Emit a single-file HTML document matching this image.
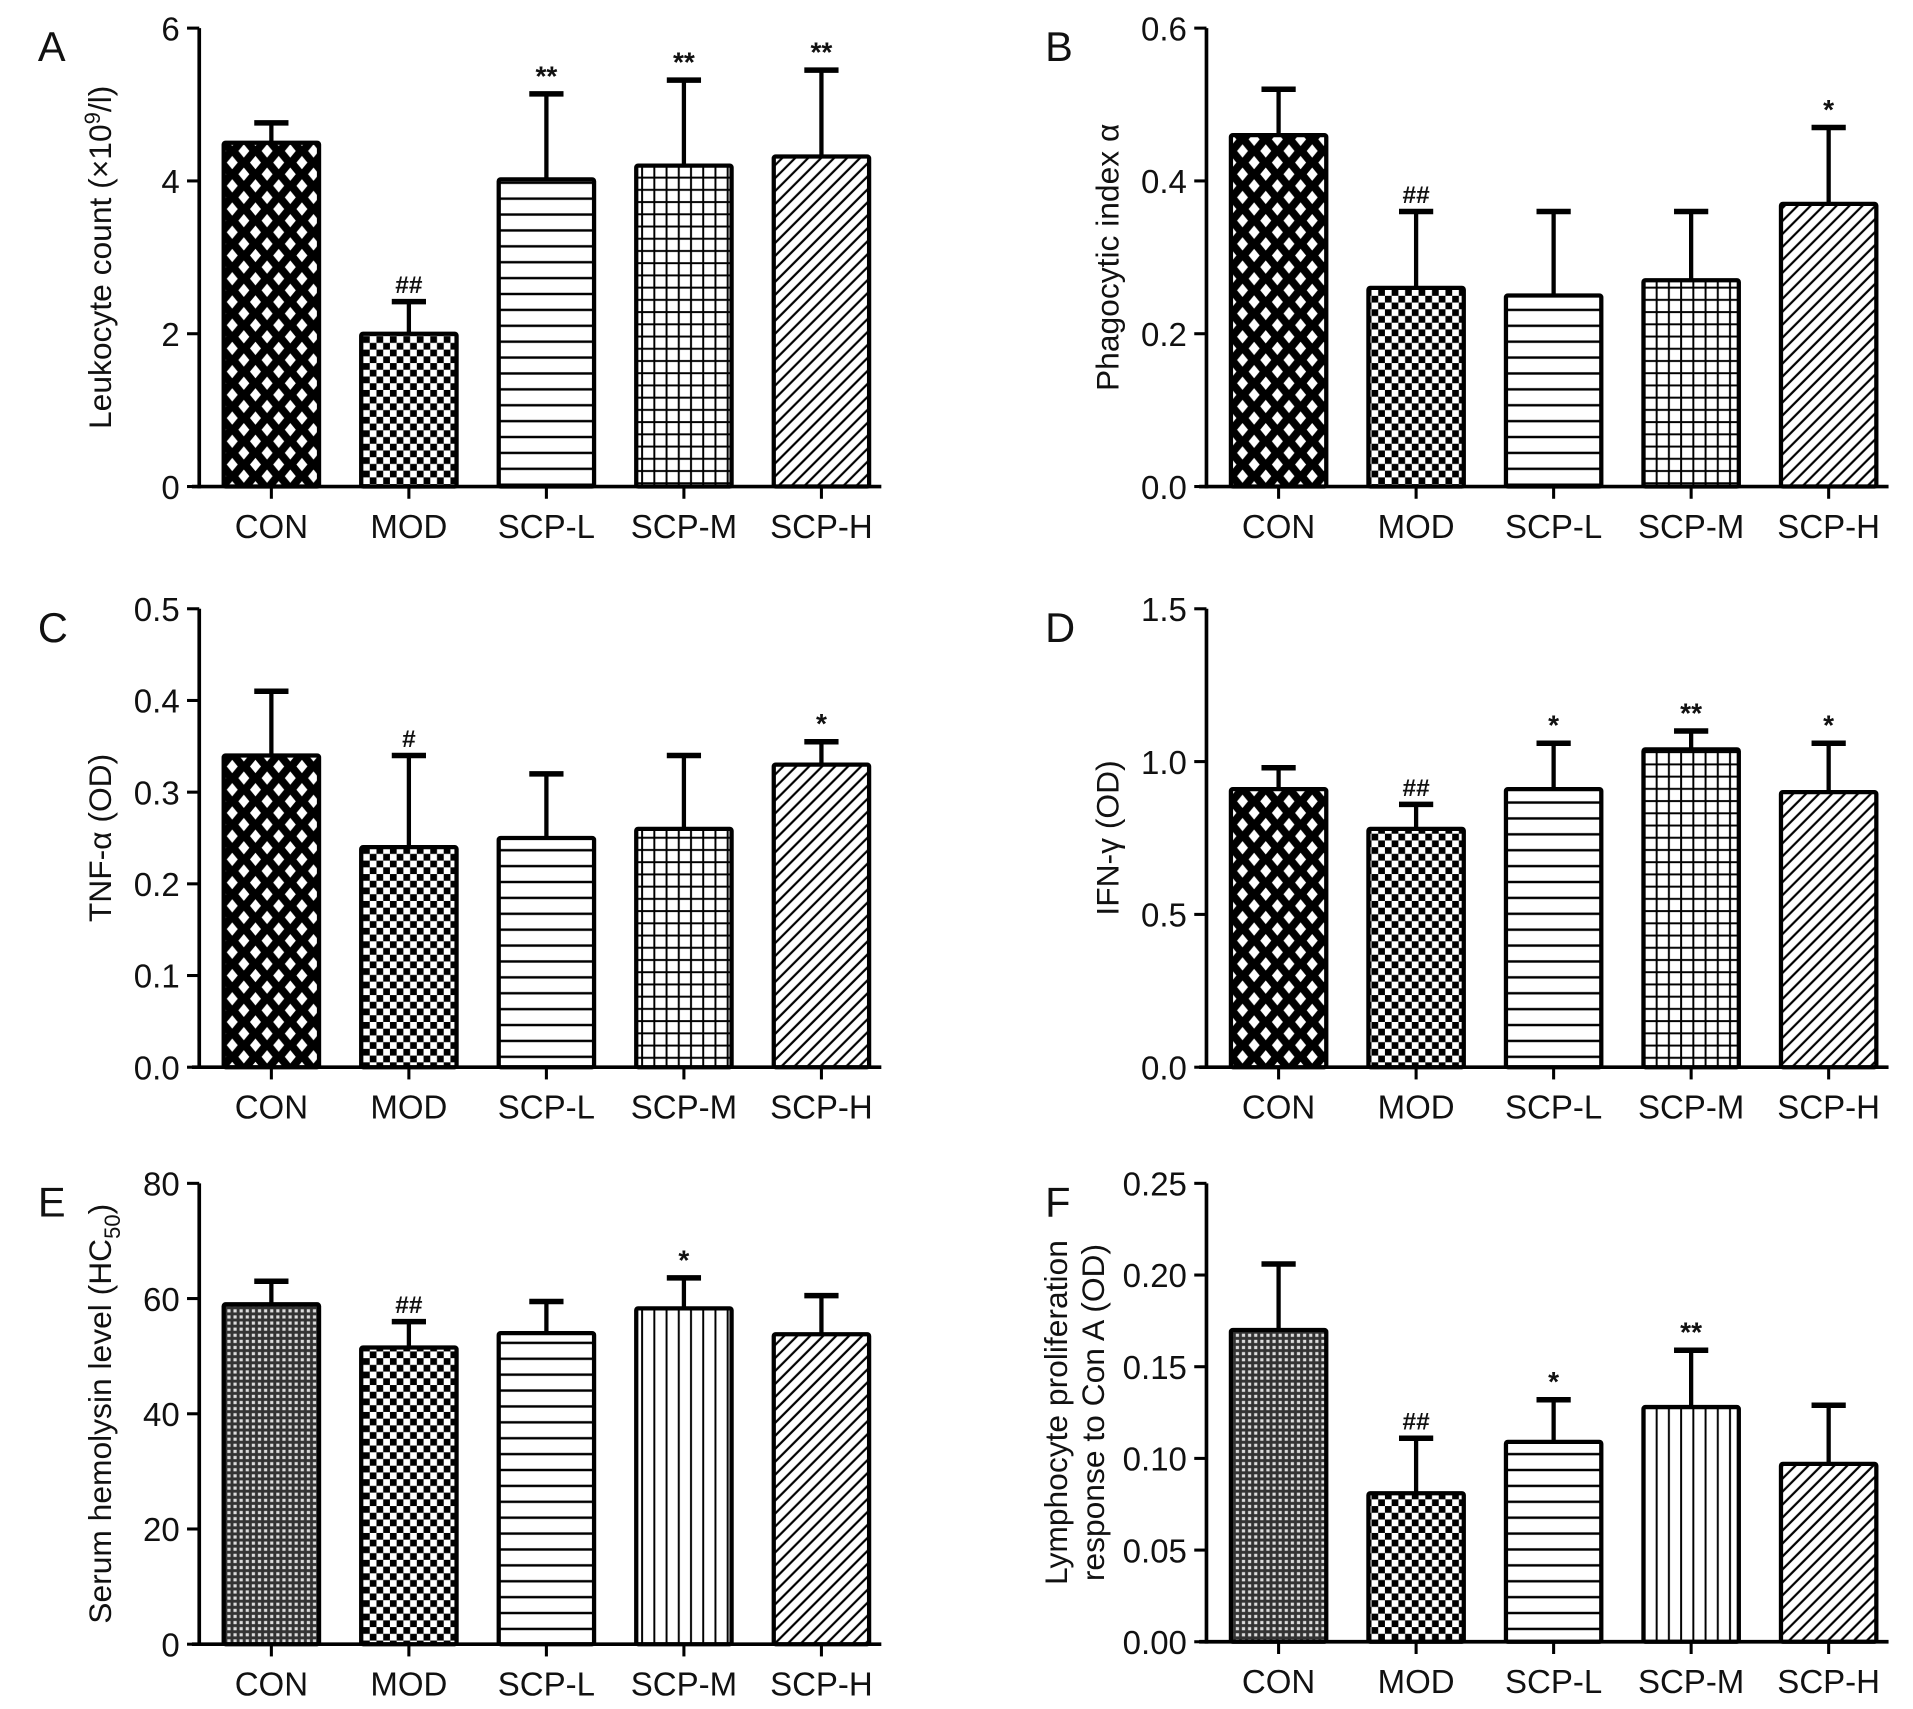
<!DOCTYPE html>
<html><head><meta charset="utf-8"><style>
html,body{margin:0;padding:0;background:#fff}
svg{display:block}
text{font-family:"Liberation Sans",sans-serif;fill:#111}
</style></head><body>
<svg id="fig" xmlns="http://www.w3.org/2000/svg" width="1913" height="1709" viewBox="0 0 1565 1398" preserveAspectRatio="none">
<defs>
<pattern id="p-diamond" patternUnits="userSpaceOnUse" width="19" height="19">
<rect width="19" height="19" fill="#000"/>
<polygon points="9.5,4 14,9.5 9.5,15 5,9.5" fill="#fff"/>
<polygon points="0,-5.5 4.5,0 0,5.5 -4.5,0" fill="#fff"/>
<polygon points="19,-5.5 23.5,0 19,5.5 14.5,0" fill="#fff"/>
<polygon points="0,13.5 4.5,19 0,24.5 -4.5,19" fill="#fff"/>
<polygon points="19,13.5 23.5,19 19,24.5 14.5,19" fill="#fff"/>
</pattern>
<pattern id="p-fine" patternUnits="userSpaceOnUse" width="5" height="5">
<rect width="5" height="5" fill="#333"/>
<rect x="1" y="1" width="2.6" height="2.6" fill="#ddd"/>
</pattern>
<pattern id="p-check" patternUnits="userSpaceOnUse" width="11" height="11">
<rect width="11" height="11" fill="#fff"/>
<rect width="5.5" height="5.5" fill="#000"/>
<rect x="5.5" y="5.5" width="5.5" height="5.5" fill="#000"/>
</pattern>
<pattern id="p-horiz" patternUnits="userSpaceOnUse" width="12" height="13">
<rect width="12" height="13" fill="#fff"/>
<rect y="5.5" width="12" height="2" fill="#000"/>
</pattern>
<pattern id="p-grid" patternUnits="userSpaceOnUse" width="10" height="10">
<rect width="10" height="10" fill="#fff"/>
<rect y="4.5" width="10" height="1.6" fill="#000"/>
<rect x="4.5" width="1.6" height="10" fill="#000"/>
</pattern>
<pattern id="p-vert" patternUnits="userSpaceOnUse" width="10" height="10">
<rect width="10" height="10" fill="#fff"/>
<rect x="4.5" width="1.6" height="10" fill="#000"/>
</pattern>
<pattern id="p-diag" patternUnits="userSpaceOnUse" width="7.5" height="10" patternTransform="rotate(45)">
<rect width="7.5" height="10" fill="#fff"/>
<rect x="3" width="1.8" height="10" fill="#000"/>
</pattern>
</defs>
<g id="root"></g>
</svg>
<script>
const categories = ["CON","MOD","SCP-L","SCP-M","SCP-H"];
const valuesA = [4.5, 2.0, 4.02, 4.2, 4.32];
const errorsA = [0.26, 0.42, 1.12, 1.12, 1.13];
const marksA = ["", "##", "**", "**", "**"];
const ticksA = [0, 2, 4, 6];
const valuesB = [0.46, 0.26, 0.25, 0.27, 0.37];
const errorsB = [0.06, 0.10, 0.11, 0.09, 0.10];
const marksB = ["", "##", "", "", "*"];
const ticksB = [0.0, 0.2, 0.4, 0.6];
const valuesC = [0.34, 0.24, 0.25, 0.26, 0.33];
const errorsC = [0.07, 0.10, 0.07, 0.08, 0.025];
const marksC = ["", "#", "", "", "*"];
const ticksC = [0.0, 0.1, 0.2, 0.3, 0.4, 0.5];
const valuesD = [0.91, 0.78, 0.91, 1.04, 0.90];
const errorsD = [0.07, 0.08, 0.15, 0.06, 0.16];
const marksD = ["", "##", "*", "**", "*"];
const ticksD = [0.0, 0.5, 1.0, 1.5];
const valuesE = [59, 51.5, 54, 58.3, 53.8];
const errorsE = [4, 4.5, 5.5, 5.3, 6.7];
const marksE = ["", "##", "", "*", ""];
const ticksE = [0, 20, 40, 60, 80];
const valuesF = [0.17, 0.081, 0.109, 0.128, 0.097];
const errorsF = [0.036, 0.030, 0.023, 0.031, 0.032];
const marksF = ["", "##", "*", "**", ""];
const ticksF = [0.00, 0.05, 0.10, 0.15, 0.20, 0.25];

const NS="http://www.w3.org/2000/svg";
const root=document.getElementById('root');
function mk(tag,attrs,parent,txt){const e=document.createElementNS(NS,tag);for(const k in attrs)e.setAttribute(k,attrs[k]);if(txt!==undefined)e.textContent=txt;(parent||root).appendChild(e);return e;}

const panels=[
 {id:'a',letter:'A',ax:163,top:23,bot:398,vals:valuesA,errs:errorsA,marks:marksA,ticks:ticksA,dec:0,fills:['p-diamond','p-check','p-horiz','p-grid','p-diag'],title:['Leukocyte count  (×10','9','/l)'],sup:true},
 {id:'b',letter:'B',ax:987,top:23,bot:398,vals:valuesB,errs:errorsB,marks:marksB,ticks:ticksB,dec:1,fills:['p-diamond','p-check','p-horiz','p-grid','p-diag'],title:['Phagocytic index α']},
 {id:'c',letter:'C',ax:163,top:498,bot:873,vals:valuesC,errs:errorsC,marks:marksC,ticks:ticksC,dec:1,fills:['p-diamond','p-check','p-horiz','p-grid','p-diag'],title:['TNF-α  (OD)']},
 {id:'d',letter:'D',ax:987,top:498,bot:873,vals:valuesD,errs:errorsD,marks:marksD,ticks:ticksD,dec:1,fills:['p-diamond','p-check','p-horiz','p-grid','p-diag'],title:['IFN-γ  (OD)']},
 {id:'e',letter:'E',ax:163,top:968,bot:1345,vals:valuesE,errs:errorsE,marks:marksE,ticks:ticksE,dec:0,fills:['p-fine','p-check','p-horiz','p-vert','p-diag'],title:['Serum hemolysin level  (HC','50',')'],sub:true},
 {id:'f',letter:'F',ax:987,top:968,bot:1343,vals:valuesF,errs:errorsF,marks:marksF,ticks:ticksF,dec:2,fills:['p-fine','p-check','p-horiz','p-vert','p-diag'],title:['Lymphocyte proliferation','response to Con A (OD)'],two:true}
];

panels.forEach(p=>{
 const g=mk('g',{});
 
 
 const ymax=p.ticks[p.ticks.length-1];
 const y=v=>p.bot-(v/ymax)*(p.bot-p.top);
 const bx=i=>p.ax+20+i*112.5;
 const bw=78;
 const L=mk('text',{x:p.ax-132,y:p.top+27,'font-size':34},g,p.letter);
 
 
 p.vals.forEach((v,i)=>{
  const x=bx(i), yt=y(v), ye=y(v+p.errs[i]), cx=x+bw/2;
  const eb=mk('g',{},g);
  
  
  mk('line',{x1:cx,x2:cx,y1:yt,y2:ye,stroke:'#000','stroke-width':3.5},eb);
  mk('line',{x1:cx-14,x2:cx+14,y1:ye,y2:ye,stroke:'#000','stroke-width':4.5},eb);
  const r=mk('rect',{x:x,y:yt,width:bw,height:p.bot-yt,fill:'url(#'+p.fills[i]+')',stroke:'#000','stroke-width':3.5,rx:1.5},g);
  
  
  if(p.marks[i]){
   const m=mk('text',{x:cx,y:ye-7,'font-size':p.marks[i][0]=='#'?20:23,'text-anchor':'middle','font-weight':'bold'},g,p.marks[i]);
   
   
  }
  const t=mk('line',{x1:cx,x2:cx,y1:p.bot,y2:p.bot+10,stroke:'#000','stroke-width':2.5},g);
  
  
  const lb=mk('text',{x:cx,y:p.bot+42,'font-size':27,'text-anchor':'middle'},g,categories[i]);
  
  
 });
 const ya=mk('line',{x1:p.ax,x2:p.ax,y1:p.top,y2:p.bot+1.5,stroke:'#000','stroke-width':3},g);
 
 
 const xa=mk('line',{x1:p.ax-6,x2:p.ax+558,y1:p.bot,y2:p.bot,stroke:'#000','stroke-width':3},g);
 
 
 p.ticks.forEach(tv=>{
  const tk=mk('line',{x1:p.ax-10,x2:p.ax,y1:y(tv),y2:y(tv),stroke:'#000','stroke-width':2.5},g);
  
  
  const tl=mk('text',{x:p.ax-16,y:y(tv)+10,'font-size':27,'text-anchor':'end'},g,tv.toFixed(p.dec));
  
  
 });
 const cy=(p.top+p.bot)/2;
 if(p.two){
  const t1=mk('text',{transform:`translate(${p.ax-114},${cy}) rotate(-90)`,'font-size':26,'text-anchor':'middle'},g,p.title[0]);
  
  
  const t2=mk('text',{transform:`translate(${p.ax-84},${cy}) rotate(-90)`,'font-size':26,'text-anchor':'middle'},g,p.title[1]);
  
  
 } else {
  const t=mk('text',{transform:`translate(${p.ax-72},${cy}) rotate(-90)`,'font-size':26,'text-anchor':'middle'},g);
  
  
  const s1=document.createElementNS(NS,'tspan');s1.textContent=p.title[0];t.appendChild(s1);
  if(p.title.length>1){
   const s2=document.createElementNS(NS,'tspan');s2.textContent=p.title[1];
   s2.setAttribute('font-size','18');s2.setAttribute('dy',p.sup?'-9':'7');t.appendChild(s2);
   const s3=document.createElementNS(NS,'tspan');s3.textContent=p.title[2];
   s3.setAttribute('dy',p.sup?'9':'-7');t.appendChild(s3);
  }
 }
});
</script>
</body></html>
